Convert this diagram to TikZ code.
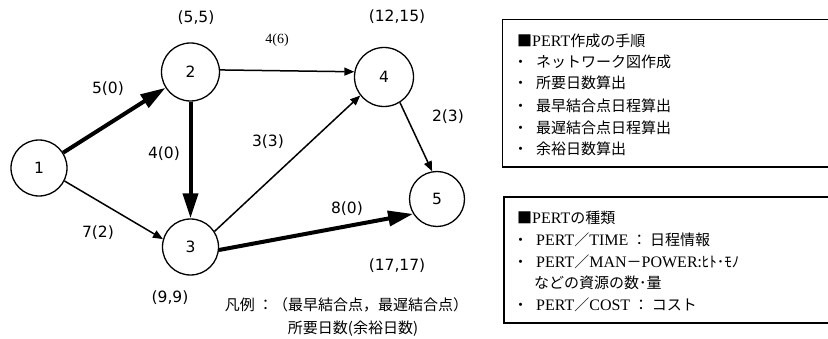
\documentclass[tikz,border=0pt]{standalone}
\usepackage{fontspec}
\setmainfont{Liberation Serif}
\newfontfamily\jpfont{Noto Sans CJK JP}
\newfontfamily\numfont{DejaVu Sans}
\usetikzlibrary{arrows.meta}
\newcommand{\srf}[1]{{\rmfamily\fontsize{16}{18}\selectfont #1}}
\begin{document}
\begin{tikzpicture}[x=1pt,y=-1pt,
  vertex/.style={circle,draw,line width=1.3pt,inner sep=0pt,
    font=\numfont\fontsize{15.5}{18}\selectfont},
  numlabel/.style={inner sep=0pt,font=\numfont\fontsize{15.5}{18}\selectfont},
  serlabel/.style={inner sep=0pt,font=\rmfamily\fontsize{14}{16}\selectfont},
  jplabel/.style={inner sep=0pt,font=\jpfont\fontsize{15}{18}\selectfont},
  boxline/.style={inner sep=0pt,anchor=west,font=\jpfont\fontsize{15}{18}\selectfont},
  infobox/.style={line width=1.5pt},
  thinarrow/.style={line width=1.5pt,-{Triangle[length=10pt,width=8pt]}},
  thickarrow/.style={line width=4pt,-{Triangle[length=25pt,width=15pt]}}
]
\useasboundingbox[fill=white] (0,0) rectangle (828,339);

% nodes
\node[vertex,minimum size=56pt] (1) at (39,168) {1};
\node[vertex,minimum size=58pt] (2) at (190.5,72) {2};
\node[vertex,minimum size=56pt] (3) at (190.5,247) {3};
\node[vertex,minimum size=59pt] (4) at (384,77) {4};
\node[vertex,minimum size=55pt] (5) at (437,199) {5};

% connectors
\draw[thickarrow] (1) -- (2);
\draw[thickarrow] (2) -- (3);
\draw[thickarrow] (3.-6) -- (5.212);
\draw[thinarrow] (1.-27) -- (3.164);
\draw[thinarrow] (2.4) -- (4.170);
\draw[thinarrow] (3.33) -- (4.218);
\draw[thinarrow] (4.-58) -- (5.100);

% node values
\node[numlabel] (v2) at (196,18) {(5,5)};
\node[numlabel] (v4) at (397,17) {(12,15)};
\node[numlabel] (v5) at (397,266) {(17,17)};
\node[numlabel] (v3) at (170,298) {(9,9)};

% edge labels
\node[serlabel] (l24) at (277,40.5) {4(6)};
\node[numlabel] (l12) at (108,89) {5(0)};
\node[numlabel] (l45) at (448,117) {2(3)};
\node[numlabel] (l23) at (164,154) {4(0)};
\node[numlabel] (l34) at (268,142) {3(3)};
\node[numlabel] (l35) at (347,209) {8(0)};
\node[numlabel] (l13) at (98,233) {7(2)};

% legend
\node[jplabel] (leg1) at (346.5,305) {凡例 ：（最早結合点，最遅結合点）};
\node[jplabel] (leg2) at (353,329) {所要日数(余裕日数)};

% box 1
\draw[infobox] (502.5,19.5) rectangle (840,167);
\node[boxline] (a0) at (517,40.7) {■\srf{PERT}作成の手順};
\node[boxline] (a1) at (513,61.7) {\makebox[23pt][l]{・}ネットワーク図作成};
\node[boxline] (a2) at (513,83) {\makebox[23pt][l]{・}所要日数算出};
\node[boxline] (a3) at (513,106) {\makebox[23pt][l]{・}最早結合点日程算出};
\node[boxline] (a4) at (513,127.7) {\makebox[23pt][l]{・}最遅結合点日程算出};
\node[boxline] (a5) at (513,149) {\makebox[23pt][l]{・}余裕日数算出};

% box 2
\draw[infobox] (504,197) rectangle (840,323);
\node[boxline] (b0) at (517,218) {■\srf{PERT}の種類};
\node[boxline] (b1) at (513,240) {\makebox[23pt][l]{・}\srf{PERT}／\srf{TIME} ： 日程情報};
\node[boxline] (b2) at (513,261.7) {\makebox[23pt][l]{・}\srf{PERT}／\srf{MAN}－\srf{POWER}:ﾋﾄ･ﾓﾉ};
\node[boxline] (b3) at (534,283) {などの資源の数･量};
\node[boxline] (b4) at (513,305) {\makebox[23pt][l]{・}\srf{PERT}／\srf{COST} ： コスト};
\end{tikzpicture}
\end{document}
